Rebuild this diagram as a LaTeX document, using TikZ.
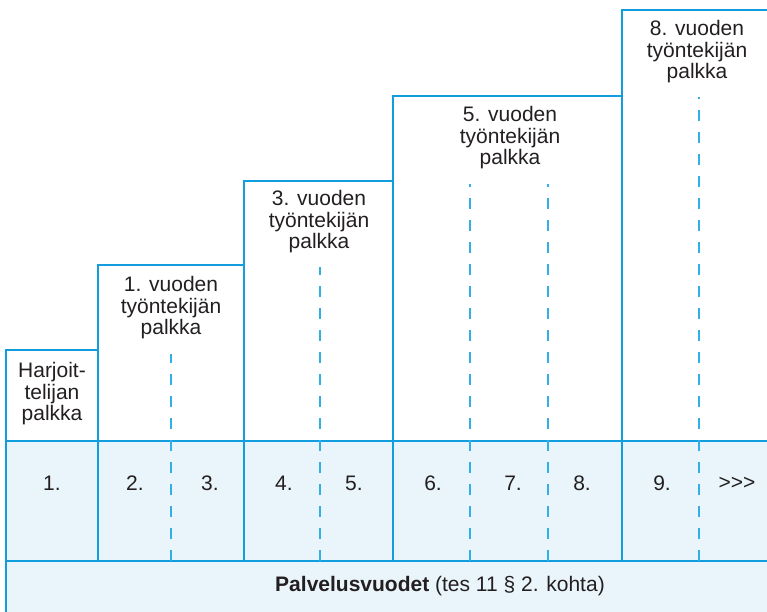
\documentclass[tikz,border=0pt]{standalone}
\usepackage{fontspec}
\setmainfont{Liberation Sans}
\definecolor{lineblue}{RGB}{18,158,222}
\definecolor{dashblue}{RGB}{50,175,230}
\definecolor{paleblue}{RGB}{234,245,251}
\definecolor{ink}{RGB}{35,31,32}
\begin{document}
\begin{tikzpicture}[x=1pt,y=-1pt,
  edge/.style={draw=lineblue,line width=1.2pt},
  dashline/.style={draw=dashblue,line width=1.2pt,dash pattern=on 11pt off 11pt},
  label/.style={text=ink,align=center,font=\fontsize{21}{21.5}\selectfont,inner sep=0pt},
  num/.style={text=ink,font=\fontsize{21}{22}\selectfont,inner sep=0pt}]
\useasboundingbox (0,0) rectangle (767,611);
\clip (0,0) rectangle (767,611);
% pale fill
\fill[paleblue] (6,441) rectangle (775,620);
% step outline
\draw[edge] (6,620) -- (6,350) -- (98,350) -- (98,265) -- (244,265) -- (244,181)
  -- (393,181) -- (393,96) -- (622,96) -- (622,10) -- (775,10);
% vertical separators
\draw[edge] (98,265) -- (98,561);
\draw[edge] (244,181) -- (244,561);
\draw[edge] (393,96) -- (393,561);
\draw[edge] (622,10) -- (622,561);
% horizontal lines
\draw[edge] (6,441) -- (775,441);
\draw[edge] (6,561) -- (775,561);
% dashed lines (drawn from bottom)
\draw[dashline] (171,561) -- (171,354);
\draw[dashline] (320,561) -- (320,267);
\draw[dashline] (470,561) -- (470,184);
\draw[dashline] (548,561) -- (548,184);
\draw[dashline] (699,561) -- (699,97);
% step labels
\node[label] (harj) at (52,394) {Harjoit-\\telijan\\palkka};
\node[label] (v1) at (171,308) {1. vuoden\\työntekijän\\palkka};
\node[label] (v3) at (319,222) {3. vuoden\\työntekijän\\palkka};
\node[label] (v5) at (510,138) {5. vuoden\\työntekijän\\palkka};
\node[label] (v8) at (697,52) {8. vuoden\\työntekijän\\palkka};
% year numbers
\node[num] (n1) at (52,483) {1.};
\node[num] (n2) at (135,483) {2.};
\node[num] (n3) at (210,483) {3.};
\node[num] (n4) at (284,483) {4.};
\node[num] (n5) at (354,483) {5.};
\node[num] (n6) at (433,483) {6.};
\node[num] (n7) at (513,483) {7.};
\node[num] (n8) at (582,483) {8.};
\node[num] (n9) at (662,483) {9.};
\node[num] (nmore) at (737,483) {>\kern0pt>\kern0pt>};
% bottom caption
\node[num] (cap) at (440,586) {\textbf{Palvelusvuodet} (tes 11 § 2. kohta)};
\end{tikzpicture}
\end{document}
